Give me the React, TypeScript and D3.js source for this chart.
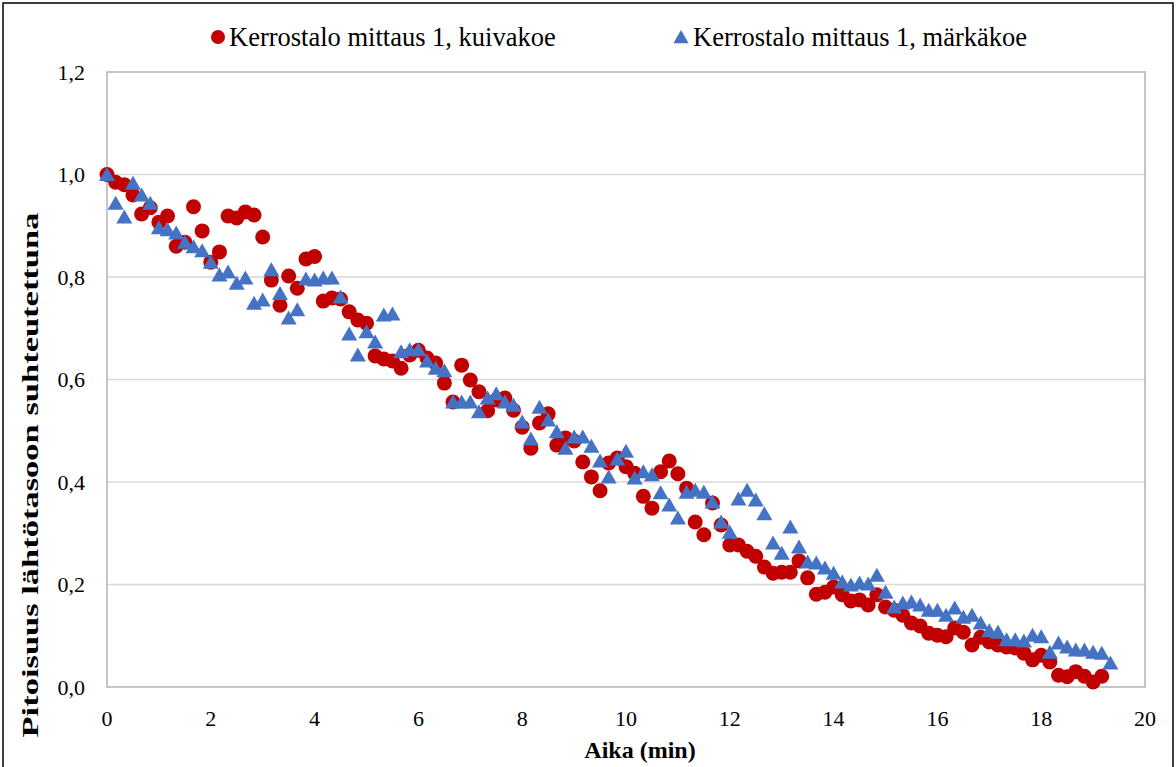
import React from "react";
import * as d3 from "d3";

const SAMPLE_INTERVAL_MIN = 1 / 6; // one reading every 10 s

const kuivakoe: number[] = [
  1.0, 0.985, 0.98, 0.96, 0.923, 0.935, 0.907, 0.919, 0.86, 0.868,
  0.937, 0.89, 0.829, 0.849, 0.919, 0.915, 0.927, 0.921, 0.878, 0.794,
  0.745, 0.802, 0.778, 0.835, 0.84, 0.753, 0.759, 0.757, 0.732, 0.716,
  0.71, 0.646, 0.64, 0.636, 0.622, 0.648, 0.657, 0.642, 0.632, 0.593,
  0.556, 0.628, 0.599, 0.576, 0.539, 0.56, 0.564, 0.54, 0.507, 0.466,
  0.515, 0.533, 0.472, 0.486, 0.48, 0.439, 0.41, 0.383, 0.437, 0.447,
  0.43, 0.417, 0.372, 0.349, 0.42, 0.441, 0.416, 0.388, 0.322, 0.297,
  0.359, 0.316, 0.277, 0.277, 0.265, 0.255, 0.234, 0.222, 0.224, 0.224,
  0.246, 0.213, 0.181, 0.185, 0.195, 0.18, 0.168, 0.17, 0.16, 0.18,
  0.156, 0.15, 0.14, 0.125, 0.119, 0.105, 0.101, 0.098, 0.115, 0.107,
  0.082, 0.097, 0.088, 0.082, 0.078, 0.076, 0.066, 0.053, 0.062, 0.049,
  0.023, 0.02, 0.03, 0.021, 0.01, 0.021,
];

const markakoe: number[] = [
  1.0, 0.944, 0.917, 0.983, 0.96, 0.944, 0.896, 0.892, 0.886, 0.868,
  0.859, 0.851, 0.829, 0.804, 0.81, 0.788, 0.798, 0.749, 0.755, 0.814,
  0.768, 0.72, 0.736, 0.796, 0.794, 0.798, 0.798, 0.761, 0.689, 0.648,
  0.693, 0.673, 0.726, 0.728, 0.654, 0.658, 0.658, 0.636, 0.622, 0.617,
  0.556, 0.556, 0.556, 0.537, 0.564, 0.572, 0.556, 0.55, 0.517, 0.484,
  0.546, 0.521, 0.498, 0.466, 0.488, 0.488, 0.47, 0.441, 0.41, 0.445,
  0.46, 0.408, 0.42, 0.414, 0.379, 0.355, 0.33, 0.38, 0.384, 0.38,
  0.361, 0.322, 0.302, 0.367, 0.384, 0.365, 0.338, 0.281, 0.261, 0.312,
  0.273, 0.244, 0.242, 0.232, 0.222, 0.205, 0.199, 0.203, 0.201, 0.218,
  0.185, 0.156, 0.164, 0.166, 0.16, 0.15, 0.15, 0.14, 0.154, 0.136,
  0.14, 0.125, 0.11, 0.107, 0.092, 0.092, 0.09, 0.101, 0.098, 0.068,
  0.086, 0.078, 0.072, 0.072, 0.068, 0.066, 0.047,
];

const xTicks = [0, 2, 4, 6, 8, 10, 12, 14, 16, 18, 20];
const yTicks = [0, 0.2, 0.4, 0.6, 0.8, 1.0, 1.2];
const seriesNames = ["Kerrostalo mittaus 1, kuivakoe", "Kerrostalo mittaus 1, märkäkoe"];
const xTitle = "Aika (min)";
const yTitle = "Pitoisuus lähtötasoon suhteutettuna";

const W = 1176;
const H = 767;
const FONT = "Liberation Serif";
const RED = "#C00000";
const BLUE = "#4472C4";

const fmt = (v: number) => v.toFixed(1).replace(".", ",");

const tri = (cx: number, cy: number, s = 1) =>
  `M${cx},${cy - 7.5 * s}L${cx + 8 * s},${cy + 6.5 * s}L${cx - 8 * s},${cy + 6.5 * s}Z`;

export default function App() {
  const x = d3.scaleLinear().domain([0, 20]).range([107, 1145]);
  const y = d3.scaleLinear().domain([0, 1.2]).range([687, 72]);

  const red = kuivakoe.map((v, i) => ({ t: i * SAMPLE_INTERVAL_MIN, v }));
  const blue = markakoe.map((v, i) => ({ t: i * SAMPLE_INTERVAL_MIN, v }));

  return (
    <svg
      width={W}
      height={H}
      style={{ position: "absolute", left: 0, top: 0, background: "#fff", fontFamily: FONT }}
    >
      <rect x={0} y={0} width={W} height={H} fill="#fff" />
      <rect x={3} y={3} width={W - 6} height={H + 20} fill="none" stroke="#000" strokeWidth={1.5} />

      {/* gridlines */}
      {yTicks.slice(1, -1).map((t) => (
        <line key={t} x1={x(0)} x2={x(20)} y1={y(t)} y2={y(t)} stroke="#D9D9D9" strokeWidth={1.5} />
      ))}
      {/* plot border */}
      <rect x={x(0)} y={y(1.2)} width={x(20) - x(0)} height={y(0) - y(1.2)} fill="none" stroke="#BFBFBF" strokeWidth={1.8} />

      {/* y tick labels */}
      {yTicks.map((t) => (
        <text key={t} x={85} y={y(t)} dy="0.35em" textAnchor="end" fontSize={22} fill="#000" fontFamily={FONT}>
          {fmt(t)}
        </text>
      ))}
      {/* x tick labels */}
      {xTicks.map((t) => (
        <text key={t} x={x(t)} y={726} textAnchor="middle" fontSize={22} fill="#000" fontFamily={FONT}>
          {t}
        </text>
      ))}

      {/* axis titles */}
      <text x={640} y={758} textAnchor="middle" fontSize={24} fontWeight="bold" fill="#000" fontFamily={FONT}>
        {xTitle}
      </text>
      <g transform="translate(38,475) rotate(-90)">
        <text x={0} y={0} textAnchor="middle" fontSize={23} fontWeight="bold" fill="#000" fontFamily={FONT} transform="scale(1.5,1)">
          {yTitle}
        </text>
      </g>

      {/* series */}
      <g>
        {red.map((d, i) => (
          <circle key={i} cx={x(d.t)} cy={y(d.v)} r={7.5} fill={RED} />
        ))}
      </g>
      <g>
        {blue.map((d, i) => (
          <path key={i} d={tri(x(d.t), y(d.v))} fill={BLUE} />
        ))}
      </g>

      {/* legend */}
      <circle cx={218} cy={37} r={7} fill={RED} />
      <text x={229} y={46} fontSize={26.5} fill="#000" fontFamily={FONT}>
        {seriesNames[0]}
      </text>
      <path d={tri(681, 37, 0.95)} fill={BLUE} />
      <text x={693} y={46} fontSize={26.5} fill="#000" fontFamily={FONT}>
        {seriesNames[1]}
      </text>
    </svg>
  );
}
